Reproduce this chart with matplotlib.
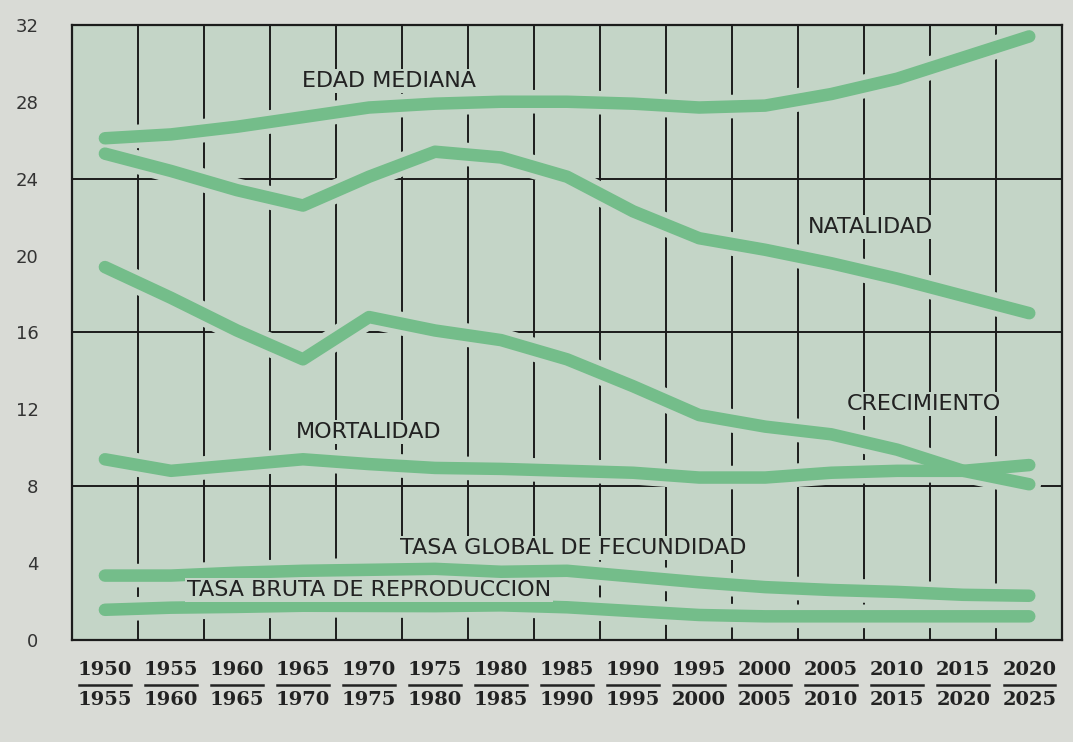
import numpy as np
import matplotlib
matplotlib.use("Agg")
import matplotlib.pyplot as plt
import matplotlib.transforms as mtransforms
from matplotlib.lines import Line2D

# periods (start / end year of each quinquennium)
start_years = ['1950', '1955', '1960', '1965', '1970', '1975', '1980', '1985',
               '1990', '1995', '2000', '2005', '2010', '2015', '2020']
end_years = ['1955', '1960', '1965', '1970', '1975', '1980', '1985', '1990',
             '1995', '2000', '2005', '2010', '2015', '2020', '2025']

# series
edad_mediana = [26.1, 26.3, 26.7, 27.2, 27.7, 27.9, 28.0, 28.0, 27.9, 27.7, 27.8, 28.4, 29.2, 30.3, 31.4]
natalidad = [25.3, 24.4, 23.4, 22.6, 24.1, 25.4, 25.1, 24.1, 22.3, 20.9, 20.3, 19.6, 18.8, 17.9, 17.0]
crecimiento = [19.4, 17.8, 16.1, 14.6, 16.8, 16.1, 15.6, 14.6, 13.2, 11.7, 11.1, 10.7, 9.9, 8.8, 8.1]
mortalidad = [9.4, 8.8, 9.1, 9.4, 9.15, 8.95, 8.9, 8.8, 8.7, 8.45, 8.45, 8.7, 8.8, 8.8, 9.1]
tasa_global_fec = [3.35, 3.35, 3.5, 3.6, 3.65, 3.7, 3.55, 3.6, 3.3, 3.0, 2.75, 2.6, 2.5, 2.35, 2.3]
tasa_bruta_rep = [1.57, 1.68, 1.72, 1.78, 1.77, 1.76, 1.8, 1.7, 1.5, 1.3, 1.23, 1.23, 1.23, 1.23, 1.23]

y_ticks = [0, 4, 8, 12, 16, 20, 24, 28, 32]
grid_levels = [8, 16, 24]

# curve labels: (text, x index, y value)
curve_labels = [
    ('EDAD MEDIANA', 4.3, 29.1),
    ('NATALIDAD', 11.6, 21.5),
    ('CRECIMIENTO', 12.4, 12.3),
    ('MORTALIDAD', 4.0, 10.8),
    ('TASA GLOBAL DE FECUNDIDAD', 7.1, 4.8),
    ('TASA BRUTA DE REPRODUCCION', 4.0, 2.6),
]

page_col = '#d9dbd6'
panel_col = '#c4d5c7'
line_col = '#74bd8a'
ink = '#1c1c1c'

fig = plt.figure(figsize=(10.73, 7.42), dpi=100, facecolor=page_col)
ax = fig.add_axes([0.067, 0.1375, 0.923, 0.829])
ax.set_facecolor(panel_col)

x = np.arange(len(start_years))
ax.set_xlim(-0.5, len(start_years) - 0.5)
ax.set_ylim(0, 32)

# grid
for v in grid_levels:
    ax.axhline(v, color=ink, lw=1.4, zorder=1)
for b in np.arange(0.5, len(start_years) - 1, 1):
    ax.axvline(b, color=ink, lw=1.4, zorder=1)

series = [edad_mediana, natalidad, crecimiento, mortalidad, tasa_global_fec, tasa_bruta_rep]

# halo under the curves (the print leaves a gap in the grid around them)
for s in series:
    ax.plot(x, s, color=panel_col, lw=17, solid_capstyle='round',
            solid_joinstyle='round', zorder=2)
for s in series:
    ax.plot(x, s, color=line_col, lw=9, solid_capstyle='round',
            solid_joinstyle='round', zorder=3)

for txt, xi, yv in curve_labels:
    ax.text(xi, yv, txt, ha='center', va='center', fontsize=16, color='#222222',
            zorder=4, bbox=dict(facecolor=panel_col, edgecolor='none', pad=1.5))

# axes
for sp in ax.spines.values():
    sp.set_color(ink)
    sp.set_linewidth(1.6)
    sp.set_zorder(5)
ax.set_yticks(y_ticks)
ax.tick_params(axis='y', length=0, pad=24, labelsize=13, labelcolor='#333333')
ax.set_xticks([])

# two-line period labels under the axis
trans = mtransforms.blended_transform_factory(ax.transData, ax.transAxes)
for i in x:
    ax.text(i, -0.049, start_years[i], transform=trans, ha='center', va='center',
            fontsize=14, family='DejaVu Serif', fontweight='bold', color='#222222')
    ax.add_line(Line2D([i - 0.39, i + 0.39], [-0.073, -0.073], transform=trans,
                       color='#222222', lw=1.8, clip_on=False))
    ax.text(i, -0.098, end_years[i], transform=trans, ha='center', va='center',
            fontsize=14, family='DejaVu Serif', fontweight='bold', color='#222222')

fig.savefig('out.png', dpi=100, facecolor=page_col)
